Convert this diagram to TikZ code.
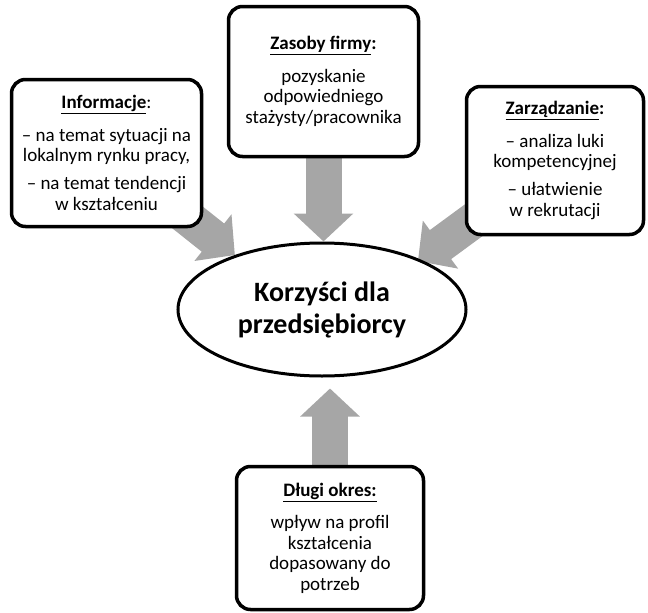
\documentclass[tikz,border=0pt]{standalone}
\usepackage{fontspec}
\setmainfont{Carlito}
\usepackage{tikz}
\usetikzlibrary{positioning}
\usetikzlibrary{shapes,arrows.meta,backgrounds}
\colorlet{arrowgray}{black!35}
\tikzstyle{infobox}=[draw=black,line width=3.5pt,rounded corners=14pt,fill=white,align=center,inner sep=0pt,font=\fontsize{19}{20.5}\selectfont]
\tikzstyle{bigarrow}=[draw=arrowgray,line width=36pt,-{Triangle[width=58pt,length=28pt]}]

\begin{document}
\begin{tikzpicture}[x=1pt,y=-1pt]

      \useasboundingbox (0,0) rectangle (648,613);

      \node [ellipse, draw=black, line width=3pt, fill=white, minimum width=288pt, minimum height=133pt, align=center, font=\fontsize{28}{32}\selectfont\bfseries] (centre) at (322, 309.5) {Korzyści dla\\przedsiębiorcy};

      \node [infobox, minimum width=190pt, minimum height=147pt] (informacje) at (106.5, 153) {\underline{\textbf{Informacje}}:\\[12pt]– na temat sytuacji na\\lokalnym rynku pracy,\\[7.5pt]– na temat tendencji\\w kształceniu};

      \node [infobox, minimum width=190pt, minimum height=150pt] (zasoby_firmy) at (323.5, 81.5) {\textbf{\underline{Zasoby firmy}:}\\[12pt]pozyskanie\\odpowiedniego\\stażysty/pracownika};

      \node [infobox, minimum width=177pt, minimum height=148pt] (zarzadzanie) at (555, 160.5) {\textbf{\underline{Zarządzanie}:}\\[12pt]– analiza luki\\kompetencyjnej\\[7.5pt]– ułatwienie\\w rekrutacji};

      \node [infobox, minimum width=187pt, minimum height=143pt] (dlugi_okres) at (330, 538) {\textbf{\underline{Długi okres:}}\\[12pt]wpływ na profil\\kształcenia\\dopasowany do\\potrzeb};

      \begin{pgfonlayer}{background}
      \draw[bigarrow] (zasoby_firmy.center) -- (zasoby_firmy.center |- centre.north);
      \draw[bigarrow, shorten >=11pt] (dlugi_okres.center) -- (dlugi_okres.center |- centre.south);
      \draw[bigarrow] (informacje.center) -- (centre.148);
      \draw[bigarrow, shorten >=-3pt] (zarzadzanie.center) -- (centre.27);
      \end{pgfonlayer}
    \end{tikzpicture}
\end{document}
